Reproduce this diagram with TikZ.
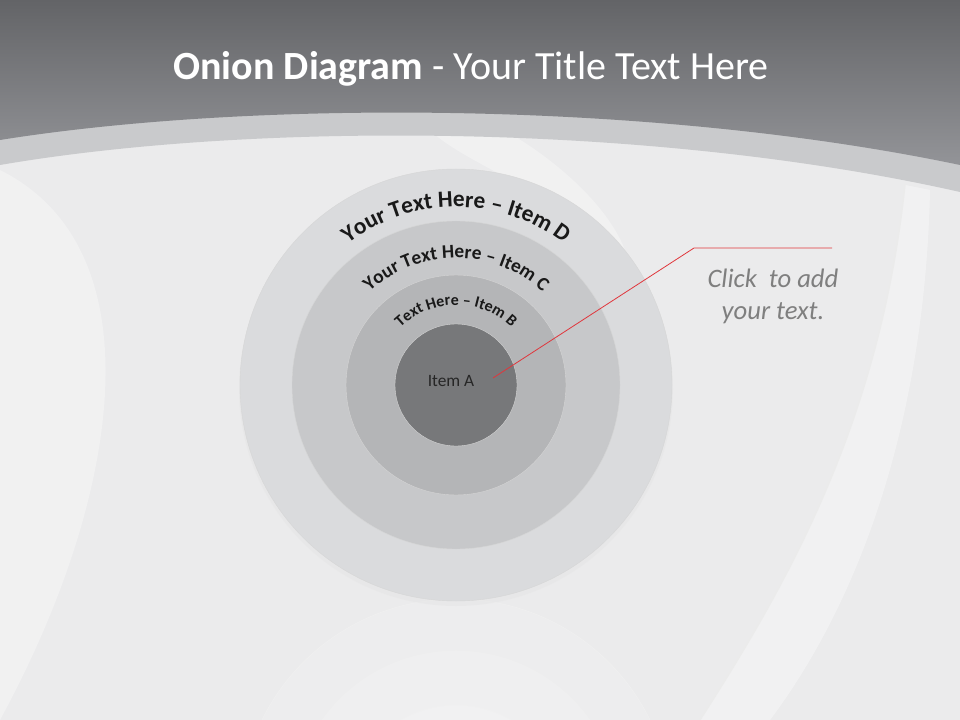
\documentclass[tikz,border=0pt]{standalone}
\usepackage{fontspec}
\setmainfont{Carlito}
\usetikzlibrary{decorations.text,calc}

\definecolor{headtop}{HTML}{636467}
\definecolor{headbot}{HTML}{939498}
\definecolor{bandgray}{HTML}{C9CACC}
\definecolor{paper}{HTML}{EBEBEC}
\definecolor{ringD}{HTML}{DADBDD}
\definecolor{ringC}{HTML}{C7C8CA}
\definecolor{ringB}{HTML}{B4B5B7}
\definecolor{ringA}{HTML}{77787A}
\definecolor{leadred}{HTML}{E0363C}
\definecolor{notegray}{HTML}{7F7F7F}

\tikzset{
    ringtext/.style={decorate, decoration={text along path, text align=center, text color=black!90}},
    leader/.style={draw=leadred, line width=0.6pt}
}

\begin{document}
\begin{tikzpicture}[x=0.75pt, y=0.75pt]
    \useasboundingbox (0,0) rectangle (960,-720);
    % Background and header
    \fill[paper] (0,0) rectangle (960,-720);
    \fill[white, opacity=0.3] (0,-720) .. controls (120,-500) and (160,-250) .. (0,-170) -- cycle;
    \fill[white, opacity=0.35] (905,-185) .. controls (880,-420) and (790,-580) .. (700,-720)
        -- (770,-720) .. controls (860,-600) and (925,-420) .. (930,-190) -- cycle;
    \draw[black!8, line width=1pt] (905,-185) .. controls (880,-420) and (790,-580) .. (700,-720);
    \fill[white, opacity=0.3] (430,-130) .. controls (470,-170) and (590,-200) .. (630,-290)
        .. controls (640,-230) and (560,-160) .. (500,-128) -- cycle;
    \fill[bandgray] (0,0) -- (0,-165) .. controls (250,-122) and (650,-122) .. (960,-192) -- (960,0) -- cycle;
    \shade[top color=headtop, bottom color=headbot] (0,0) -- (0,-140) .. controls (250,-100) and (650,-100) .. (960,-165) -- (960,0) -- cycle;
    \node[text=white, font=\fontsize{30}{30}\selectfont] (title) at (471,-69) {\textbf{Onion Diagram} - Your Title Text Here};

    % Reflection below the onion
    \coordinate (m) at (456,-815);
    \foreach \r in {216,164,110}
        \filldraw[fill=white, fill opacity=0.15, draw=black!6] (m) circle (\r);

    % Onion rings
    \coordinate (c) at (456,-385);
    \fill[black!10, opacity=0.5] ($(c)+(0,-4)$) circle (217);
    \foreach \r/\col in {216/ringD,164/ringC,110/ringB,61/ringA}
        \filldraw[fill=\col, draw=black!16, line width=0.3pt] (c) circle (\r);

    \path[ringtext, decoration={text={|\fontsize{17.5}{17.5}\selectfont\bfseries|Your Text Here – Item D}}]
        (c) ++(180:178) arc[start angle=180, end angle=0, radius=178];
    \path[ringtext, decoration={text={|\fontsize{14.5}{14.5}\selectfont\bfseries|Your Text Here – Item C}}]
        (c) ++(180:127) arc[start angle=180, end angle=0, radius=127];
    \path[ringtext, decoration={text={|\fontsize{12}{12}\selectfont\bfseries|Text Here – Item B}}]
        (c) ++(180:80) arc[start angle=180, end angle=0, radius=80];
    \node[text=black!85, font=\fontsize{13}{13}\selectfont] (itemA) at (451,-381) {Item A};

    % Callout
    \coordinate (lead0) at (493,-378);
    \coordinate (lead1) at (694,-248);
    \coordinate (lead2) at (832,-248);
    \draw[leader] (lead0) -- (lead1) -- (lead2);
    \node[text=notegray, font=\fontsize{20}{24}\selectfont\itshape, align=center] (note) at (773,-296) {Click\ \ to add\\ your text.};
\end{tikzpicture}
\end{document}
